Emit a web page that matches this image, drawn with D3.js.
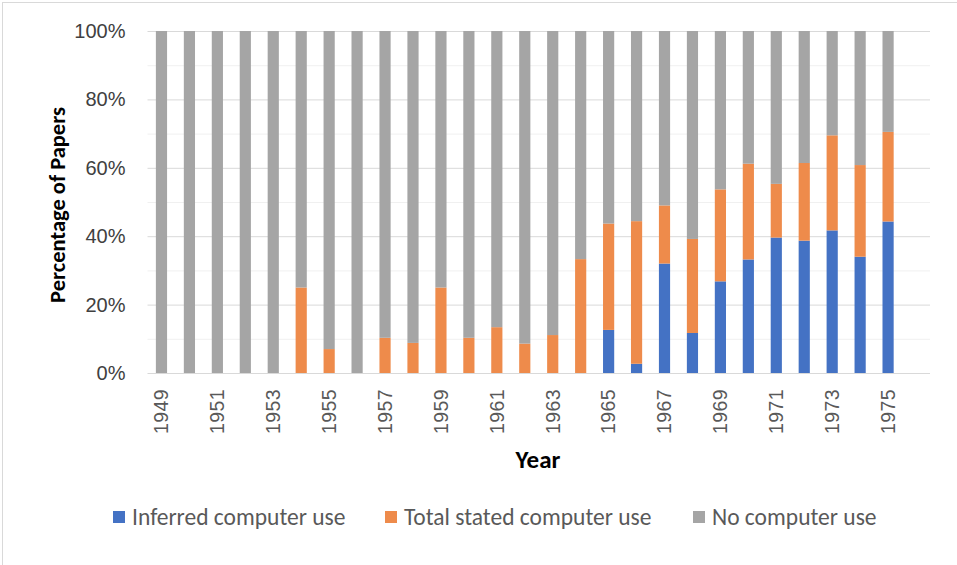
<!DOCTYPE html>
<html lang="en">
<head>
<meta charset="UTF-8">
<title>Percentage of Papers by Year</title>
<script src="https://d3js.org/d3.v7.min.js"></script>
<style>
    body { margin: 0; background: #fff; font-family: Carlito, Calibri, Lato, sans-serif; }
    .tick text { fill: #595959; }
</style>
</head>
<body>
<div id="chart"></div>
<script>
// categories
const years = ["1949","1950","1951","1952","1953","1954","1955","1956","1957","1958",
               "1959","1960","1961","1962","1963","1964","1965","1966","1967","1968",
               "1969","1970","1971","1972","1973","1974","1975"];
// blue segment, % of papers
const inferred = [0,0,0,0,0,0,0,0,0,0,
                  0,0,0,0,0,0,12.6,2.7,32.0,11.7,
                  26.8,33.2,39.6,38.7,41.7,34.0,44.3];
// orange segment (stated use on top of inferred), %
const stated = [0,0,0,0,0,25.0,7.0,0,10.3,8.8,
                25.0,10.3,13.4,8.6,11.1,33.3,31.1,41.7,17.0,27.5,
                26.9,28.0,15.7,22.7,27.8,26.8,26.2];
// grey segment, %
const noUse = [100,100,100,100,100,75.0,93.0,100,89.7,91.2,
               75.0,89.7,86.6,91.4,88.9,66.7,56.3,55.6,51.0,60.8,
               46.3,38.8,44.7,38.6,30.5,39.2,29.5];
const yTicks = [0,20,40,60,80,100];
const seriesNames = ["Inferred computer use","Total stated computer use","No computer use"];
const colors = ["#4472C4","#EE8B4B","#A5A5A5"];

const width = 957, height = 565;
const svg = d3.select("#chart").append("svg")
    .attr("width", width)
    .attr("height", height);

// outer chart frame (right/bottom edges are cropped off in the original)
svg.append("rect")
    .attr("x", 2.5).attr("y", 2.5)
    .attr("width", width + 10).attr("height", height + 10)
    .attr("fill", "none").attr("stroke", "#D9D9D9");

const plotLeft = 147.5, plotRight = 930, plotTop = 31, plotBottom = 373;

// Excel left one empty slot after the last year
const x = d3.scaleBand()
    .domain(years.concat([""]))
    .range([plotLeft, plotRight])
    .paddingInner(0.6)
    .paddingOuter(0.3);

const y = d3.scaleLinear()
    .domain([0, 100])
    .range([plotBottom, plotTop]);

// gridlines: light every 10%, darker every 20%
svg.append("g")
    .selectAll("line")
    .data(d3.range(10, 100, 20))
    .enter().append("line")
    .attr("x1", plotLeft).attr("x2", plotRight)
    .attr("y1", d => y(d) + 0.5).attr("y2", d => y(d) + 0.5)
    .attr("stroke", "#F0F0F0");
svg.append("g")
    .selectAll("line")
    .data(yTicks.slice(1))
    .enter().append("line")
    .attr("x1", plotLeft).attr("x2", plotRight)
    .attr("y1", d => y(d) + 0.5).attr("y2", d => y(d) + 0.5)
    .attr("stroke", "#D9D9D9");

const rows = years.map((yr, i) => ({year: yr, a: inferred[i], b: stated[i], c: noUse[i]}));
const stack = d3.stack().keys(["a","b","c"]);
const layers = stack(rows);

svg.append("g")
    .selectAll("g")
    .data(layers)
    .enter().append("g")
    .attr("fill", (d, i) => colors[i])
    .selectAll("rect")
    .data(d => d)
    .enter().append("rect")
    .attr("x", d => x(d.data.year))
    .attr("width", x.bandwidth())
    .attr("y", d => y(d[1]))
    .attr("height", d => y(d[0]) - y(d[1]));

// x axis
const xAxis = svg.append("g")
    .attr("transform", "translate(0," + plotBottom + ")")
    .call(d3.axisBottom(x)
        .tickValues(years.filter((d, i) => i % 2 === 0))
        .tickSize(0)
        .tickPadding(0));
xAxis.select(".domain")
    .attr("stroke", "#D9D9D9")
    .attr("d", "M" + plotLeft + ",0.5H" + plotRight);
xAxis.selectAll(".tick text")
    .attr("transform", "rotate(-90)")
    .attr("text-anchor", "end")
    .attr("x", -16)
    .attr("y", 0)
    .attr("dy", "0.35em")
    .style("font-size", "19.5px")
    .style("letter-spacing", "0.4px");

// y axis
const yAxis = svg.append("g")
    .attr("transform", "translate(" + plotLeft + ",0)")
    .call(d3.axisLeft(y)
        .tickValues(yTicks)
        .tickFormat(d => d + "%")
        .tickSize(0)
        .tickPadding(22));
yAxis.select(".domain").remove();
yAxis.selectAll(".tick text")
    .style("font-size", "20px")
    .style("fill", "#404040");

// axis titles
svg.append("text")
    .attr("transform", "translate(65," + 205 + ") rotate(-90)")
    .attr("text-anchor", "middle")
    .style("font-size", "22.5px")
    .style("font-weight", "bold")
    .text("Percentage of Papers");

svg.append("text")
    .attr("x", 538)
    .attr("y", 468)
    .attr("text-anchor", "middle")
    .style("font-size", "25px")
    .style("font-weight", "bold")
    .text("Year");

// legend
const legendX = [113, 385, 693];
const legend = svg.append("g")
    .selectAll("g")
    .data(seriesNames)
    .enter().append("g")
    .attr("transform", (d, i) => "translate(" + legendX[i] + ",511)");
legend.append("rect")
    .attr("width", 12).attr("height", 12)
    .attr("fill", (d, i) => colors[i]);
legend.append("text")
    .attr("x", 19)
    .attr("y", 6)
    .attr("dy", "0.35em")
    .style("font-size", "23.5px")
    .style("fill", "#595959")
    .text(d => d);
</script>
</body>
</html>
